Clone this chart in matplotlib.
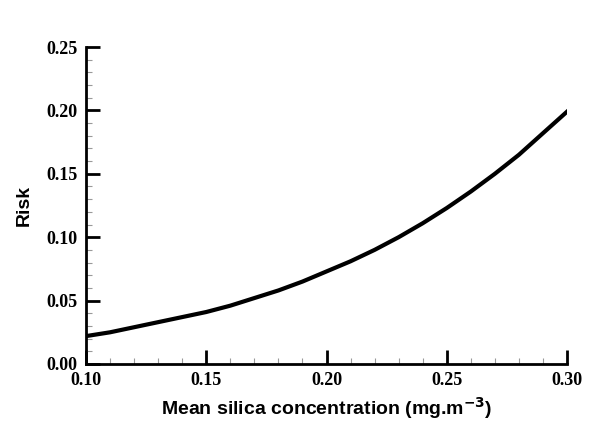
import matplotlib
matplotlib.use("Agg")
import matplotlib.pyplot as plt
from matplotlib.ticker import MultipleLocator

x = [0.10, 0.11, 0.12, 0.13, 0.14, 0.15, 0.16, 0.17, 0.18, 0.19, 0.20,
     0.21, 0.22, 0.23, 0.24, 0.25, 0.26, 0.27, 0.28, 0.29, 0.30]
risk = [0.022, 0.025, 0.029, 0.033, 0.037, 0.041, 0.046, 0.052, 0.058, 0.065, 0.073,
        0.081, 0.090, 0.100, 0.111, 0.123, 0.136, 0.150, 0.165, 0.182, 0.199]

fig = plt.figure(figsize=(5.9, 4.21), dpi=100)
ax = fig.add_axes([86/590, 1-364/421, (567-86)/590, (364-47)/421])
ax.plot(x, risk, color='black', lw=3)
ax.set_xlim(0.10, 0.30)
ax.set_ylim(0, 0.25)
for s in ['top', 'right']:
    ax.spines[s].set_visible(False)
for s in ['left', 'bottom']:
    ax.spines[s].set_linewidth(2)
ax.xaxis.set_minor_locator(MultipleLocator(0.01))
ax.yaxis.set_minor_locator(MultipleLocator(0.01))
ax.tick_params(which='major', direction='in', length=10, width=2)
ax.tick_params(which='minor', direction='in', length=4, width=0.8, color='#999999')
ax.tick_params(axis='x', which='major', pad=6)
ax.tick_params(axis='y', which='major', pad=6)
ax.set_xticks([0.10, 0.15, 0.20, 0.25, 0.30])
ax.set_xticklabels(['0.10', '0.15', '0.20', '0.25', '0.30'], fontfamily='Liberation Serif', fontweight='bold', fontsize=13)
ax.set_yticks([0, 0.05, 0.10, 0.15, 0.20, 0.25])
ax.set_yticklabels(['0.00', '0.05', '0.10', '0.15', '0.20', '0.25'], fontfamily='Liberation Serif', fontweight='bold', fontsize=13)
ax.set_xlabel('Mean silica concentration (mg.m$^{\\mathbf{-3}}$)', fontweight='bold', fontsize=14, fontfamily='Liberation Sans')
ax.set_ylabel('Risk', fontweight='bold', fontsize=14, fontfamily='Liberation Sans', labelpad=10)
fig.savefig('out.png', dpi=100)
